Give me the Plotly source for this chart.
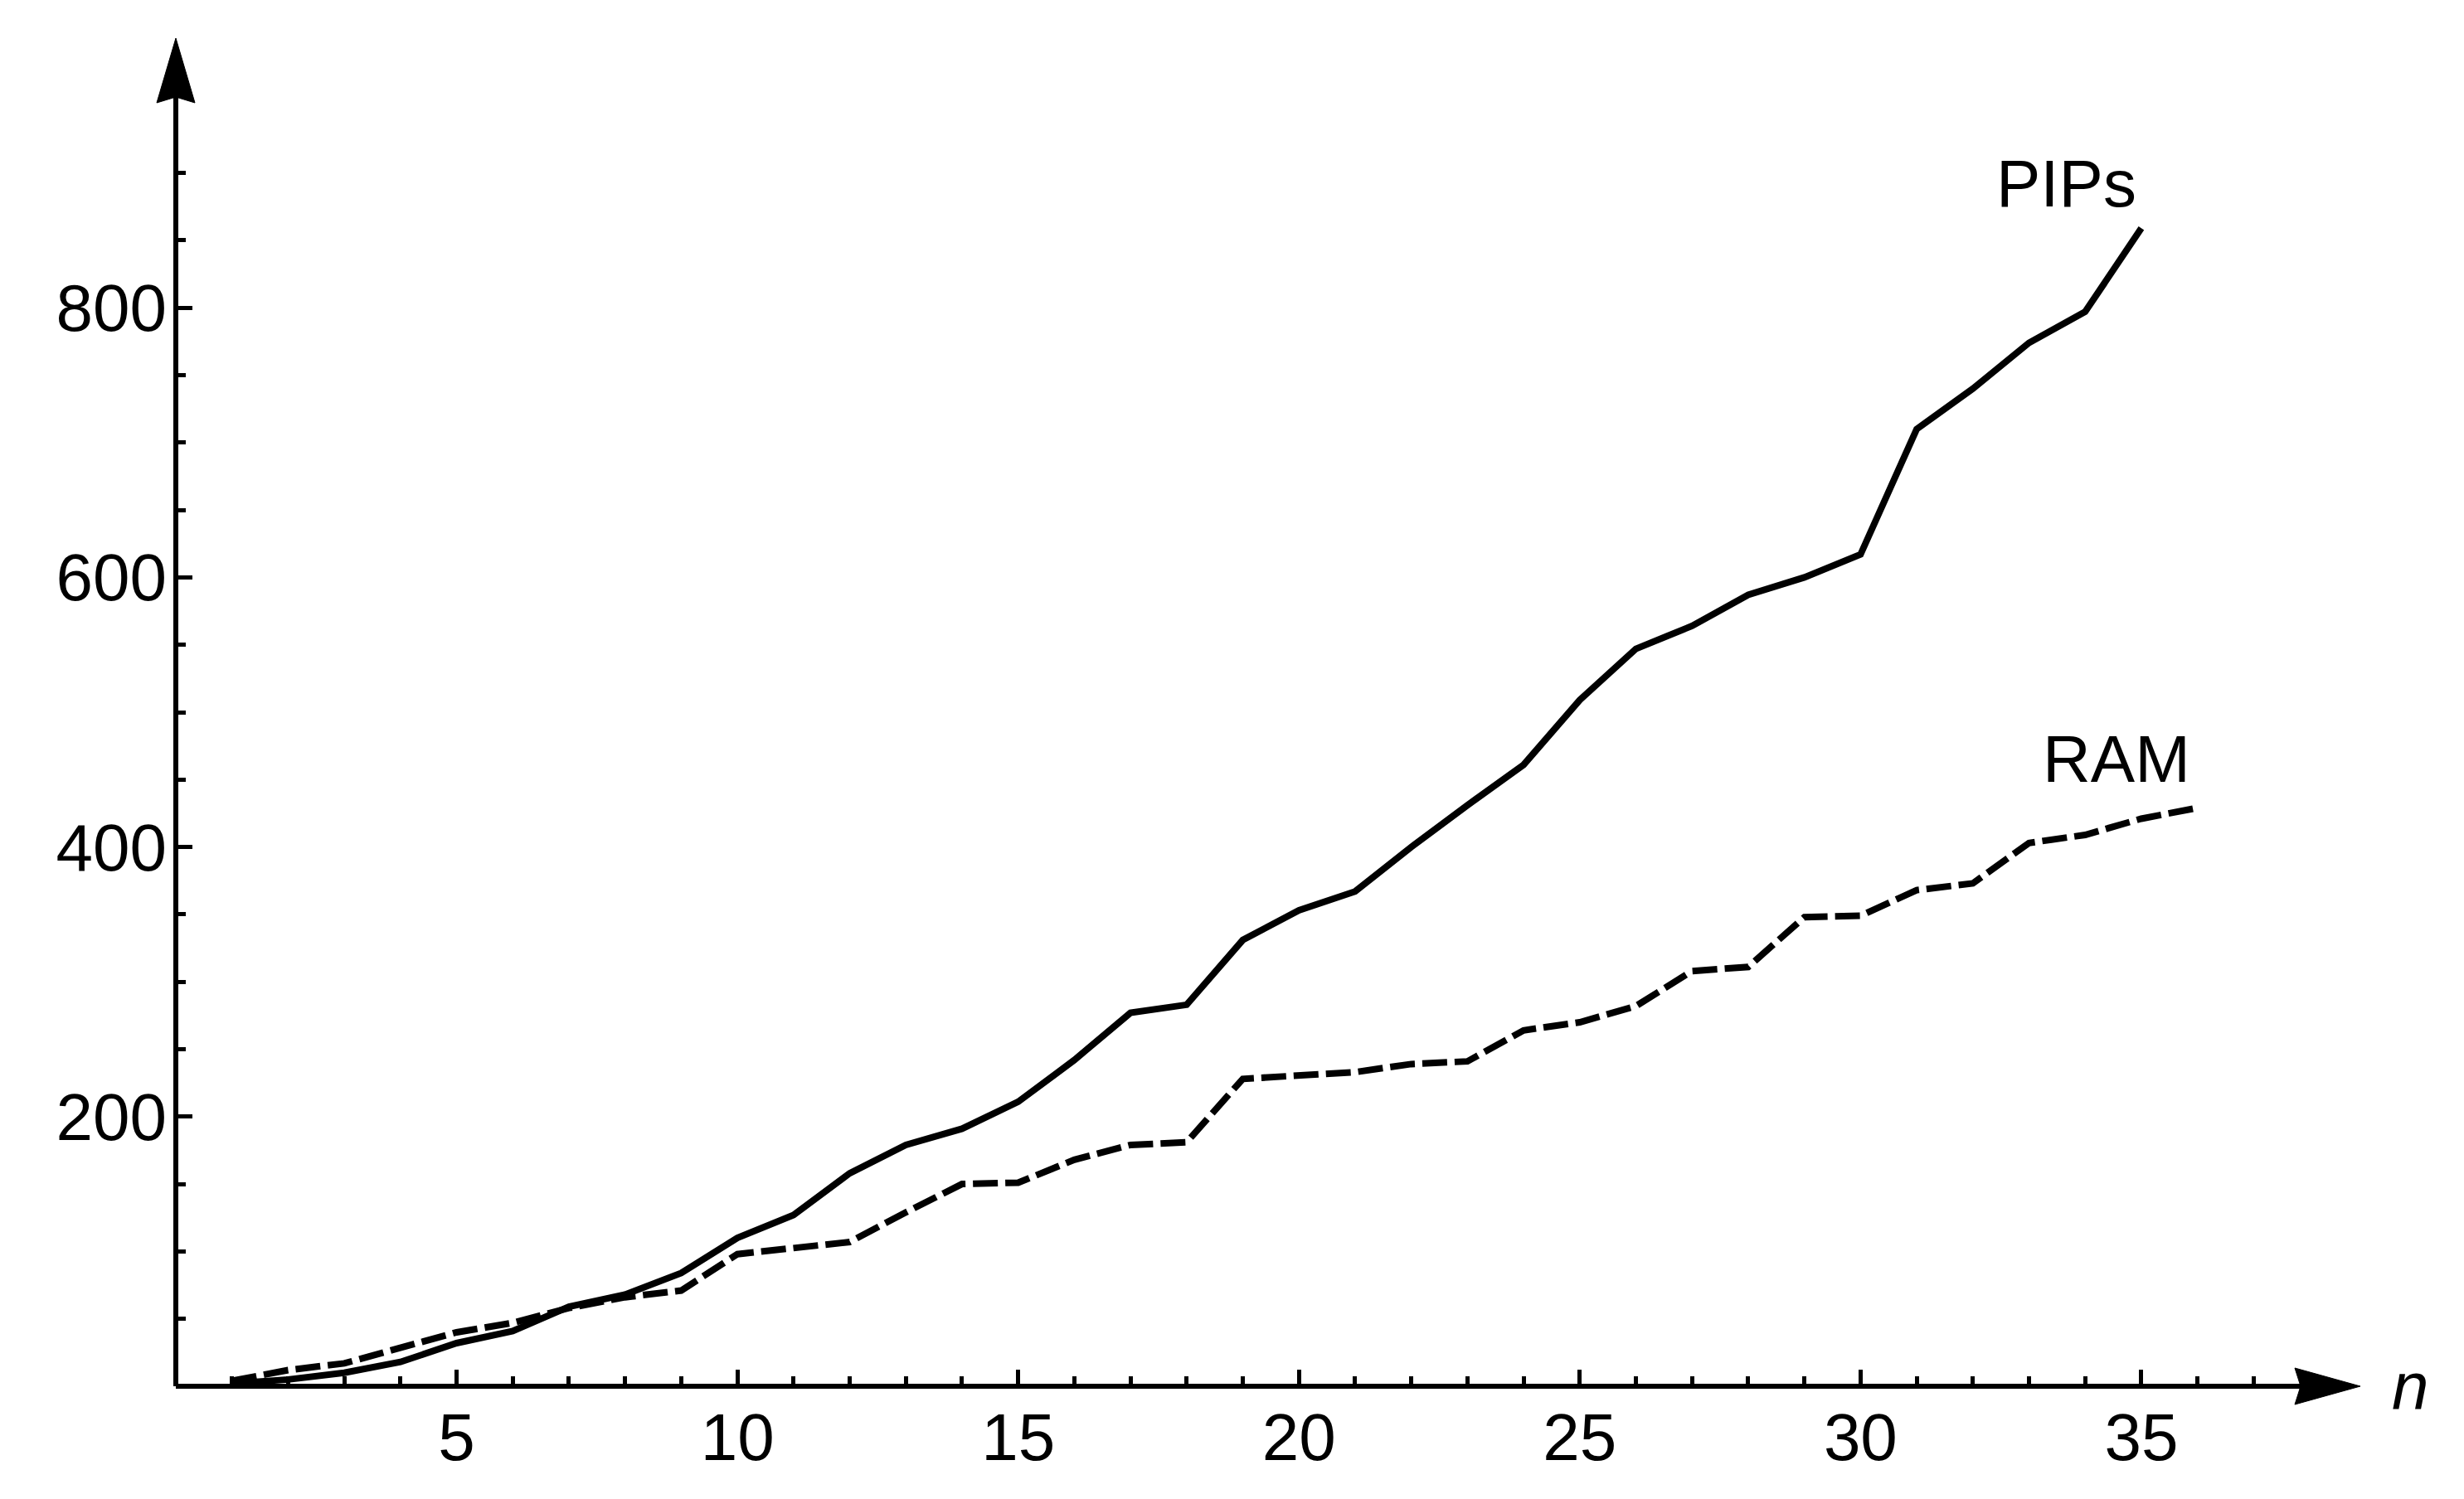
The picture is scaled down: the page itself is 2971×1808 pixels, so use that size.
import plotly.graph_objects as go

# ---------------- data ----------------
n_pips = list(range(1, 36))
pips = [2, 5, 10, 18, 32, 41, 59, 68, 84, 110, 127, 158, 179, 191, 211, 242, 277, 283,
        331, 353, 367, 400, 431, 461, 509, 547, 564, 587, 600, 617, 710, 740, 774, 797, 859]

n_ram = list(range(1, 37))
ram = [4, 12, 17, 28, 40, 47, 58, 66, 71, 98, 102, 107, 129, 150, 151, 168, 179, 181,
       228, 230, 233, 239, 241, 264, 270, 282, 308, 311, 348, 349, 368, 373, 403, 409, 421, 429]

x_major = [5, 10, 15, 20, 25, 30, 35]
x_minor = [1, 2, 3, 4, 6, 7, 8, 9, 11, 12, 13, 14, 16, 17, 18, 19, 21, 22, 23, 24,
           26, 27, 28, 29, 31, 32, 33, 34, 36, 37]
y_major = [200, 400, 600, 800]
y_minor = [50, 100, 150, 250, 300, 350, 450, 500, 550, 650, 700, 750, 850, 900]

series_labels = ["PIPs", "RAM"]
axis_label_x = "n"

# ---------------- layout constants ----------------
PAGE_OFF = 8                      # default body margin of the html page
W, H = 2971 - 2 * PAGE_OFF, 1808 - 2 * PAGE_OFF
PLOT_L, PLOT_R, PLOT_T, PLOT_B = 212, 2846, 46, 1672.5   # page pixel targets
ML = PLOT_L - PAGE_OFF
MT = PLOT_T - PAGE_OFF
MR = W - (PLOT_R - PAGE_OFF)
MB = H - (PLOT_B - PAGE_OFF)
X_RANGE = [0, 38.9]
Y_RANGE = [0, 1000]
FONT = "Liberation Sans, Arial, Helvetica, sans-serif"
FS = 80
LW = 8
AXW = 6

fig = go.Figure()
fig.add_trace(go.Scatter(x=n_ram, y=ram, mode="lines", name=series_labels[1],
                         line=dict(color="black", width=LW, dash="30px,9px")))
fig.add_trace(go.Scatter(x=n_pips, y=pips, mode="lines", name=series_labels[0],
                         line=dict(color="black", width=LW)))

tick_common = dict(ticks="inside", ticklen=20, tickwidth=5, tickcolor="black",
                   showgrid=False, zeroline=False, showline=False,
                   tickfont=dict(family=FONT, size=FS, color="black"))

fig.update_xaxes(range=X_RANGE, tickmode="array", tickvals=x_major,
                 ticktext=[str(v) for v in x_major], ticklabelstandoff=8,
                 minor=dict(tickmode="array", tickvals=x_minor, ticks="inside",
                            ticklen=12, tickwidth=5, tickcolor="black", showgrid=False),
                 **tick_common)
fig.update_yaxes(range=Y_RANGE, tickmode="array", tickvals=y_major,
                 ticktext=[str(v) for v in y_major], ticklabelstandoff=10,
                 minor=dict(tickmode="array", tickvals=y_minor, ticks="inside",
                            ticklen=12, tickwidth=5, tickcolor="black", showgrid=False),
                 **tick_common)

shapes = [
    # x axis line
    dict(type="line", xref="paper", yref="paper", x0=0, x1=0.98, y0=0, y1=0,
         line=dict(color="black", width=AXW)),
    # y axis line
    dict(type="line", xref="paper", yref="paper", x0=0, x1=0, y0=0, y1=0.97,
         line=dict(color="black", width=AXW)),
    # x arrow head
    dict(type="path", xref="paper", yref="paper", xsizemode="pixel", ysizemode="pixel",
         xanchor=1, yanchor=0,
         path="M0,0 L-79,22 L-72,0 L-79,-22 Z",
         fillcolor="black", line=dict(color="black", width=1)),
    # y arrow head
    dict(type="path", xref="paper", yref="paper", xsizemode="pixel", ysizemode="pixel",
         xanchor=0, yanchor=1,
         path="M0,0 L23,-78 L0,-71 L-23,-78 Z",
         fillcolor="black", line=dict(color="black", width=1)),
]

plot_w = PLOT_R - PLOT_L
annotations = [
    dict(x=33.67, y=892, xref="x", yref="y", text=series_labels[0], showarrow=False,
         xanchor="center", yanchor="middle", font=dict(family=FONT, size=FS, color="black")),
    dict(x=34.56, y=465, xref="x", yref="y", text=series_labels[1], showarrow=False,
         xanchor="center", yanchor="middle", font=dict(family=FONT, size=FS, color="black")),
    dict(x=(2906 - PLOT_L) / plot_w, y=0, xref="paper", yref="paper",
         text="<i>" + axis_label_x + "</i>", showarrow=False,
         xanchor="center", yanchor="middle", font=dict(family=FONT, size=FS, color="black")),
]

fig.update_layout(width=W, height=H, margin=dict(l=ML, r=MR, t=MT, b=MB, pad=0),
                  plot_bgcolor="white", paper_bgcolor="white", showlegend=False,
                  shapes=shapes, annotations=annotations)

fig.write_html("out.html")
